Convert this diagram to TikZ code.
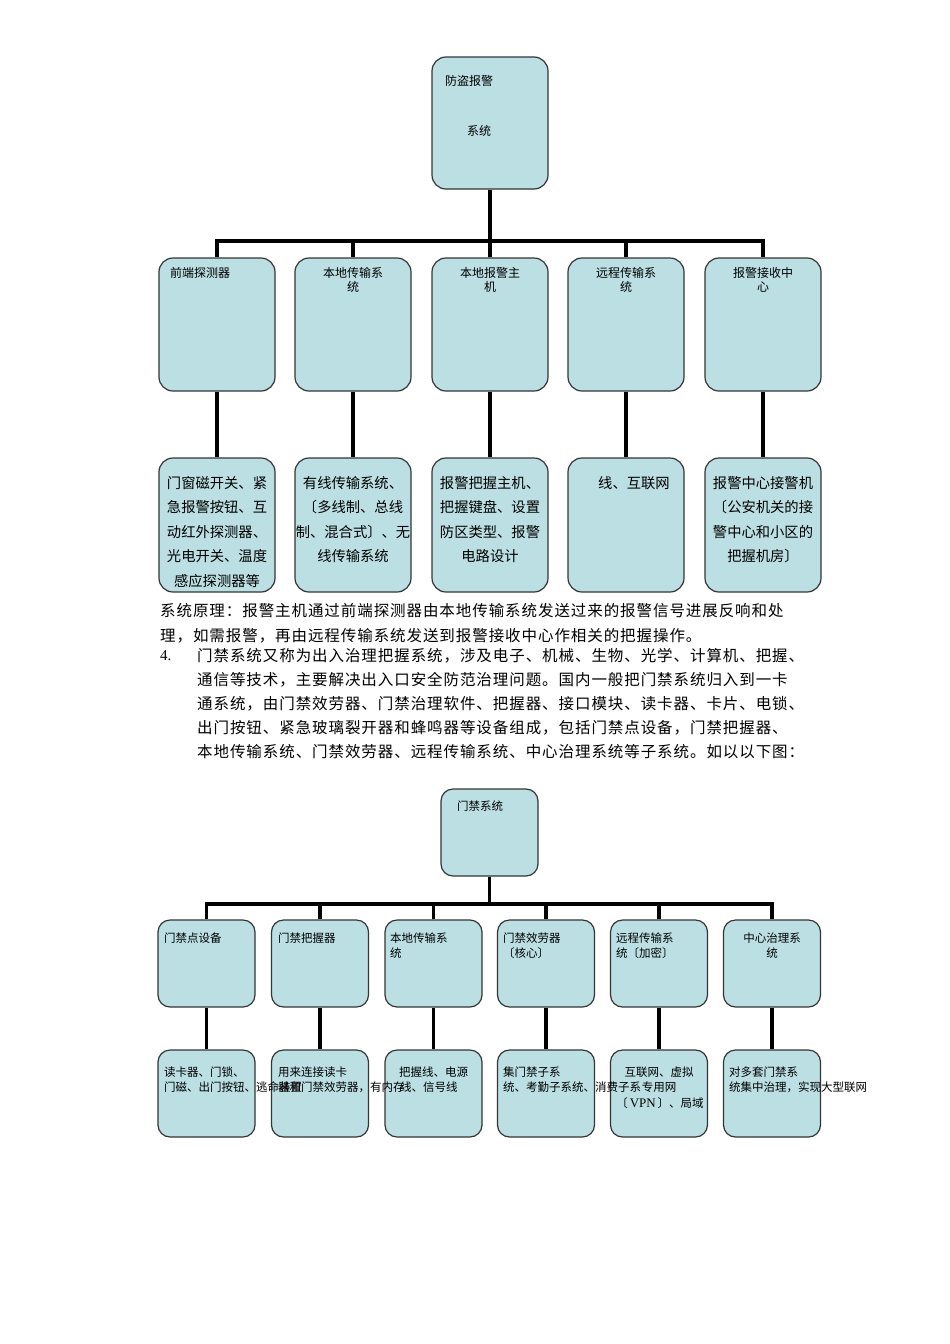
\documentclass[tikz,border=0pt]{standalone}
\usepackage{fontspec}
\newfontfamily\cjk{Noto Sans CJK SC}
\newfontfamily\cjkls[LetterSpace=6]{Noto Sans CJK SC}
\newfontfamily\lserif{Liberation Serif}
\definecolor{boxfill}{HTML}{BBDFE3}
\definecolor{boxline}{HTML}{353535}
\tikzset{
  box/.style={draw=boxline, fill=boxfill, line width=1.2pt, rounded corners=14pt, inner sep=0pt},
  topbox/.style={box, minimum width=116pt, minimum height=133pt},
  botbox/.style={box, rounded corners=12pt, minimum width=97pt, minimum height=87pt},
  conn/.style={line width=3.2pt, black, line join=miter},
  lbl/.style={inner sep=0pt, font={\cjk\fontsize{12}{14}\selectfont}},
  lblw/.style={lbl, anchor=west},
  serl/.style={inner sep=0pt, font={\cjk\fontsize{14.3}{16}\selectfont}},
  sml/.style={inner sep=0pt, font={\cjk\fontsize{11.5}{13}\selectfont}},
  smlw/.style={sml, anchor=west},
  para/.style={inner sep=0pt, anchor=west, font={\cjkls\fontsize{15.5}{17}\selectfont}}
}
\begin{document}
\begin{tikzpicture}[x=1pt,y=-1pt]
\useasboundingbox (0,0) rectangle (950,1344);
\fill[white] (0,0) rectangle (950,1344);

% ---------- top diagram boxes
\node[topbox, minimum height=132pt] (r) at (490,123) {};
\foreach \n/\x in {1/217,2/353,3/490,4/626,5/763}{
  \node[topbox] (a\n) at (\x,324.5) {};
  \node[topbox, minimum height=134pt] (d\n) at (\x,525) {};
}
\coordinate (hb) at (490,241);
\draw[conn] (r.south) -- (hb);
\draw[conn] (a1.north) -- (a1.north |- hb) -- (a5.north |- hb) -- (a5.north);
\foreach \n in {2,3,4}{ \draw[conn] (a\n.north) -- (a\n.north |- hb); }
\foreach \n in {1,...,5}{ \draw[conn] (a\n.south) -- (d\n.north); }

% ---------- bottom diagram boxes
\node[botbox] (s) at (489.5,832.5) {};
\foreach \n/\x in {1/206.5,2/320,3/433.5,4/546,5/659,6/772}{
  \node[botbox] (b\n) at (\x,963.5) {};
  \node[botbox] (c\n) at (\x,1093.5) {};
}
\coordinate (hs) at (489.5,904);
\draw[conn] (s.south) -- (hs);
\draw[conn] (b1.north) -- (b1.north |- hs) -- (b6.north |- hs) -- (b6.north);
\foreach \n in {2,...,5}{ \draw[conn] (b\n.north) -- (b\n.north |- hs); }
\foreach \n in {1,...,6}{ \draw[conn] (b\n.south) -- (c\n.north); }

% ---------- top diagram texts
\node[lblw] (rt1) at (445,81) {防盗报警};
\node[lbl] (rt2) at (479,131) {系统};
\node[lblw] (at1) at (170,273) {前端探测器};
\node[lbl] (at2a) at (353,273) {本地传输系};
\node[lbl] (at2b) at (353,287) {统};
\node[lbl] (at3a) at (490,273) {本地报警主};
\node[lbl] (at3b) at (490,287) {机};
\node[lbl] (at4a) at (626,273) {远程传输系};
\node[lbl] (at4b) at (626,287) {统};
\node[lbl] (at5a) at (763,273) {报警接收中};
\node[lbl] (at5b) at (763,287) {心};

\foreach \t [count=\i from 0] in {门窗磁开关、紧,急报警按钮、互,动红外探测器、,光电开关、温度,感应探测器等}
  \node[serl] (dt1l\i) at (217,483+24.5*\i) {\t};
\foreach \t [count=\i from 0] in {有线传输系统、,〔多线制、总线,制、混合式〕、无,线传输系统}
  \node[serl] (dt2l\i) at (353,483+24.5*\i) {\t};
\foreach \t [count=\i from 0] in {报警把握主机、,把握键盘、设置,防区类型、报警,电路设计}
  \node[serl] (dt3l\i) at (490,483+24.5*\i) {\t};
\node[serl, anchor=west] (dt4l0) at (598,483) {线、互联网};
\foreach \t [count=\i from 0] in {报警中心接警机,〔公安机关的接,警中心和小区的,把握机房〕}
  \node[serl] (dt5l\i) at (763,483+24.5*\i) {\t};

% ---------- paragraph
\node[para] (p1) at (160,611) {系统原理：报警主机通过前端探测器由本地传输系统发送过来的报警信号进展反响和处};
\node[para] (p2) at (160,636) {理，如需报警，再由远程传输系统发送到报警接收中心作相关的把握操作。};
\node[inner sep=0pt, anchor=west, font={\lserif\fontsize{15}{17}\selectfont}] (pn) at (160,656) {4.};
\node[para] (p3) at (197,656) {门禁系统又称为出入治理把握系统，涉及电子、机械、生物、光学、计算机、把握、};
\node[para] (p4) at (197,680) {通信等技术，主要解决出入口安全防范治理问题。国内一般把门禁系统归入到一卡};
\node[para] (p5) at (197,704) {通系统，由门禁效劳器、门禁治理软件、把握器、接口模块、读卡器、卡片、电锁、};
\node[para] (p6) at (197,728) {出门按钮、紧急玻璃裂开器和蜂鸣器等设备组成，包括门禁点设备，门禁把握器、};
\node[para] (p7) at (197,752) {本地传输系统、门禁效劳器、远程传输系统、中心治理系统等子系统。如以以下图：};

% ---------- bottom diagram texts
\node[lblw, font={\cjk\fontsize{11.5}{13}\selectfont}] (st) at (457,806) {门禁系统};
\node[smlw] (bt1) at (164,938) {门禁点设备};
\node[smlw] (bt2) at (278,938) {门禁把握器};
\node[smlw] (bt3a) at (390,938) {本地传输系};
\node[smlw] (bt3b) at (390,953) {统};
\node[smlw] (bt4a) at (503,938) {门禁效劳器};
\node[smlw] (bt4b) at (503,953) {〔核心〕};
\node[smlw] (bt5a) at (616,938) {远程传输系};
\node[smlw] (bt5b) at (616,953) {统〔加密〕};
\node[sml] (bt6a) at (772,938) {中心治理系};
\node[sml] (bt6b) at (772,953) {统};

\node[smlw] (ct1a) at (164,1072) {读卡器、门锁、};
\node[smlw] (ct1b) at (164,1087) {门磁、出门按钮、逃命装置};
\node[smlw] (ct2a) at (278,1072) {用来连接读卡};
\node[smlw] (ct2b) at (278,1087) {器和门禁效劳器，有内存};
\node[sml] (ct3a) at (433.5,1072) {把握线、电源};
\node[smlw] (ct3b) at (400,1087) {线、信号线};
\node[smlw] (ct4a) at (503,1072) {集门禁子系};
\node[smlw] (ct4b) at (503,1087) {统、考勤子系统、消费子系};
\node[sml] (ct5a) at (659,1072) {互联网、虚拟};
\node[sml] (ct5b) at (659,1087) {专用网};
\node[sml] (ct5c) at (660,1103) {〔\,{\lserif\fontsize{13}{13}\selectfont VPN}\,〕、局域};
\node[smlw] (ct6a) at (729,1072) {对多套门禁系};
\node[smlw] (ct6b) at (729,1087) {统集中治理，实现大型联网};
\end{tikzpicture}
\end{document}
